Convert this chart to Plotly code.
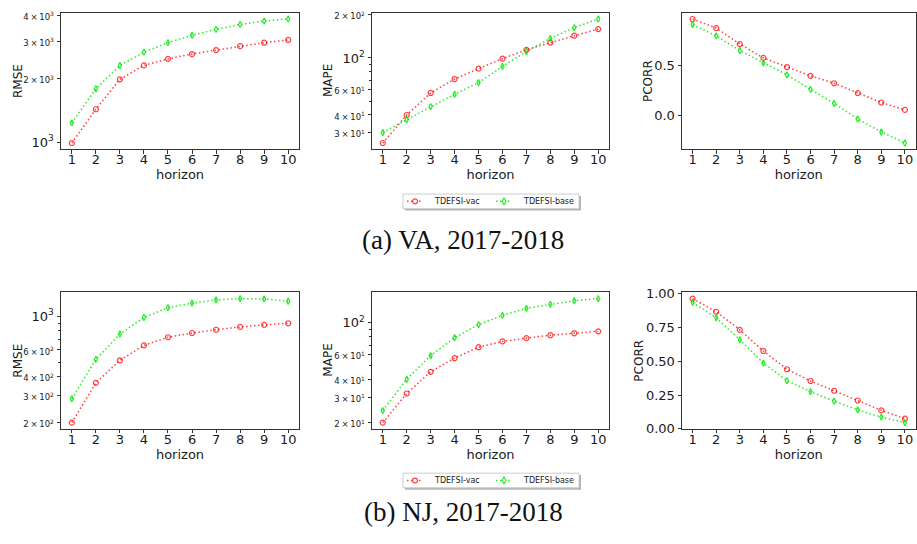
import math
import plotly.graph_objects as go

# Forecast horizon (weeks ahead)
horizon = list(range(1, 11))

# Virginia, 2017-2018
va_rmse_vac = [993, 1434, 1986, 2312, 2482, 2616, 2730, 2850, 2960, 3050]
va_rmse_base = [1236, 1793, 2310, 2670, 2960, 3210, 3420, 3610, 3750, 3830]
va_mape_vac = [25.5, 40.0, 57.0, 71.3, 84.2, 99.0, 114, 128, 143, 159]
va_mape_base = [30.2, 37.2, 45.8, 55.8, 67.3, 87.3, 111, 137, 163, 187]
va_pcorr_vac = [0.955, 0.865, 0.708, 0.571, 0.481, 0.394, 0.321, 0.224, 0.131, 0.058]
va_pcorr_base = [0.900, 0.788, 0.644, 0.522, 0.404, 0.260, 0.122, -0.032, -0.160, -0.269]

# New Jersey, 2017-2018
nj_rmse_vac = [200, 365, 513, 643, 727, 775, 814, 850, 876, 898]
nj_rmse_base = [287, 520, 763, 980, 1136, 1217, 1278, 1303, 1297, 1253]
nj_mape_vac = [20.0, 32.0, 45.4, 56.6, 67.6, 74.2, 78.2, 82.0, 84.6, 87.3]
nj_mape_base = [24.3, 40.3, 59.0, 78.7, 97.4, 113, 126.5, 135, 143, 148]
nj_pcorr_vac = [0.964, 0.867, 0.733, 0.576, 0.441, 0.354, 0.282, 0.210, 0.137, 0.075]
nj_pcorr_base = [0.937, 0.822, 0.660, 0.487, 0.357, 0.275, 0.205, 0.140, 0.087, 0.046]

series_names = ["TDEFSI-vac", "TDEFSI-base"]
metric_names = ["RMSE", "MAPE", "PCORR"]
captions = ["(a) VA, 2017-2018", "(b) NJ, 2017-2018"]

# labelled / unlabelled ticks on the log-scaled panels
va_rmse_ticks = [1000, 2000, 3000, 4000]
va_mape_ticks = [30, 40, 60, 100, 200]
va_mape_minor = [50, 70, 80, 90]
nj_rmse_ticks = [200, 300, 400, 600, 1000]
nj_rmse_minor = [500, 700, 800, 900]
nj_mape_ticks = [20, 30, 40, 60, 100]
nj_mape_minor = [50, 70, 80, 90]
va_pcorr_ticks = [0.0, 0.5]
nj_pcorr_ticks = [0.0, 0.25, 0.5, 0.75, 1.0]

rows = [
    dict(data=[(va_rmse_vac, va_rmse_base), (va_mape_vac, va_mape_base), (va_pcorr_vac, va_pcorr_base)],
         ticks=[(va_rmse_ticks, []), (va_mape_ticks, va_mape_minor), (va_pcorr_ticks, [])],
         pfmt=".1f"),
    dict(data=[(nj_rmse_vac, nj_rmse_base), (nj_mape_vac, nj_mape_base), (nj_pcorr_vac, nj_pcorr_base)],
         ticks=[(nj_rmse_ticks, nj_rmse_minor), (nj_mape_ticks, nj_mape_minor), (nj_pcorr_ticks, [])],
         pfmt=".2f"),
]

W, H = 917, 544
col_px = [(61, 299), (372, 609), (682, 915.5)]
row_px = [(7, 147), (294, 434)]
ytitle_x = [(18, 328, 648), (18, 328, 639)]
legend_y = [200.5, 487]
caption_y = [240, 519]

styles = [
    dict(color="rgba(255,0,0,0.75)", symbol="circle-open", size=5),
    dict(color="rgba(0,235,0,0.85)", symbol="diamond-tall-open", size=4.5),
]

AXIS_COLOR = "#333333"
TXT = "#1a1a1a"
FONT = "DejaVu Sans"


def px(x):
    return x / W


def py(y):
    return 1 - y / H


def log_label(v):
    e = int(math.floor(math.log10(v) + 1e-9))
    m = round(v / 10 ** e)
    if m == 1:
        return "10<sup>%d</sup>" % e
    return "<span style='font-size:8.5px'>%d\u2009×\u200910<sup>%d</sup></span>" % (m, e)


def padded(vals, log):
    lo, hi = min(vals), max(vals)
    if log:
        lo, hi = math.log10(lo), math.log10(hi)
    pad = 0.05 * (hi - lo)
    return [lo - pad, hi + pad]


fig = go.Figure()
layout = dict()
annotations = []
shapes = []
n = 0
for r, row in enumerate(rows):
    for c in range(3):
        n += 1
        sfx = "" if n == 1 else str(n)
        vac, base = row["data"][c]
        for s, (vals, st) in enumerate(zip((vac, base), styles)):
            fig.add_trace(go.Scatter(
                x=horizon, y=vals, name=series_names[s], mode="lines+markers",
                xaxis="x" + sfx, yaxis="y" + sfx, showlegend=False,
                line=dict(color=st["color"], width=1.5, dash="1.5px,2.5px"),
                marker=dict(symbol=st["symbol"], size=st["size"], color=st["color"],
                            line=dict(color=st["color"], width=1.2)),
            ))
        is_log = c < 2
        ticks, minor = row["ticks"][c]
        x0, x1 = col_px[c]
        y0, y1 = row_px[r]
        xa = dict(
            domain=[px(x0), px(x1)], anchor="y" + sfx, range=[0.55, 10.45],
            tickmode="array", tickvals=horizon, ticks="outside", ticklen=3.5,
            tickwidth=1, tickcolor=AXIS_COLOR, showgrid=False, zeroline=False,
            showline=True, linecolor=AXIS_COLOR, linewidth=1, mirror=True,
            tickfont=dict(family=FONT, size=13, color=TXT), ticklabelstandoff=-5,
            title=dict(text="horizon", font=dict(family=FONT, size=13, color=TXT), standoff=0),
        )
        ya = dict(
            domain=[py(y1), py(y0)], anchor="x" + sfx,
            ticks="outside", ticklen=3.5, tickwidth=1, tickcolor=AXIS_COLOR,
            showgrid=False, zeroline=False, showline=True, linecolor=AXIS_COLOR,
            linewidth=1, mirror=True, tickfont=dict(family=FONT, size=13, color=TXT),
            range=padded(vac + base, is_log),
            tickmode="array", tickvals=ticks,
        )
        if is_log:
            ya["type"] = "log"
            ya["ticktext"] = [log_label(v) for v in ticks]
            if minor:
                ya["minor"] = dict(tickmode="array", tickvals=minor, ticks="outside",
                                   ticklen=2, tickcolor=AXIS_COLOR, tickwidth=0.8, showgrid=False)
        else:
            ya["tickformat"] = row["pfmt"]
        layout["xaxis" + sfx] = xa
        layout["yaxis" + sfx] = ya
        # metric name beside each y axis
        annotations.append(dict(
            text=metric_names[c], x=px(ytitle_x[r][c]), y=py((y0 + y1) / 2),
            xref="paper", yref="paper", xanchor="center", yanchor="middle",
            textangle=-90, showarrow=False, font=dict(family=FONT, size=12, color=TXT),
        ))

# compact framed legend under the middle panel of each row
for yc in legend_y:
    bx0, bx1, hh = 403, 579, 7.5
    shapes.append(dict(type="rect", xref="paper", yref="paper",
                       x0=px(bx0 + 2), x1=px(bx1 + 2), y0=py(yc + hh + 2), y1=py(yc - hh + 2),
                       fillcolor="rgba(0,0,0,0.3)", line=dict(width=0)))
    shapes.append(dict(type="rect", xref="paper", yref="paper",
                       x0=px(bx0), x1=px(bx1), y0=py(yc + hh), y1=py(yc - hh),
                       fillcolor="white", line=dict(color="#cccccc", width=1)))
    for k, (name, st) in enumerate(zip(series_names, styles)):
        lx = 407 + k * 89
        mx = lx + 8
        shapes.append(dict(type="line", xref="paper", yref="paper",
                           x0=px(lx), x1=px(lx + 15), y0=py(yc), y1=py(yc),
                           line=dict(color=st["color"], width=1.5, dash="1.5px,2.5px")))
        if st["symbol"].startswith("circle"):
            shapes.append(dict(type="circle", xref="paper", yref="paper",
                               x0=px(mx - 2.5), x1=px(mx + 2.5), y0=py(yc + 2.5), y1=py(yc - 2.5),
                               fillcolor="white", line=dict(color=st["color"], width=1.2)))
        else:
            path = "M %f %f L %f %f L %f %f L %f %f Z" % (
                px(mx), py(yc - 3.5), px(mx + 2), py(yc),
                px(mx), py(yc + 3.5), px(mx - 2), py(yc))
            shapes.append(dict(type="path", xref="paper", yref="paper", path=path,
                               fillcolor="white", line=dict(color=st["color"], width=1.2)))
        annotations.append(dict(
            text=name, x=px(lx + 25), y=py(yc), xref="paper", yref="paper",
            xanchor="left", yanchor="middle", showarrow=False,
            font=dict(family=FONT, size=8, color=TXT),
        ))

for cap, yc in zip(captions, caption_y):
    annotations.append(dict(
        text=cap, x=px(463), y=py(yc), xref="paper", yref="paper",
        xanchor="center", yanchor="middle", showarrow=False,
        font=dict(family="Liberation Serif", size=27, color="#111111"),
    ))

fig.update_layout(
    **layout,
    width=W, height=H, autosize=False,
    margin=dict(l=0, r=0, t=0, b=0),
    paper_bgcolor="white", plot_bgcolor="white",
    annotations=annotations, shapes=shapes, showlegend=False,
)

fig.write_html("out.html",
               post_script="document.body.style.margin='0';document.body.style.overflow='hidden';")
